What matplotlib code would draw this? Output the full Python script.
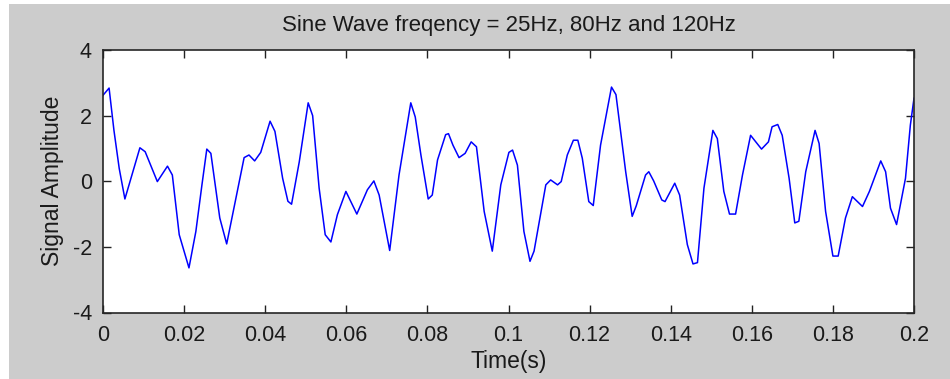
import matplotlib
matplotlib.use("Agg")
import matplotlib.pyplot as plt
import numpy as np

plt.rcParams['font.family'] = ['Liberation Sans', 'DejaVu Sans']
plt.rcParams['axes.unicode_minus'] = False

# vertices of the summed 25/80/120 Hz signal (time in s, amplitude)
t = [0.0000, 0.0015, 0.0027, 0.0040, 0.0054, 0.0091, 0.0104, 0.0134, 0.0159, 0.0171,
     0.0188, 0.0212, 0.0229, 0.0244, 0.0256, 0.0266, 0.0288, 0.0305, 0.0323, 0.0348,
     0.0360, 0.0374, 0.0389, 0.0412, 0.0424, 0.0443, 0.0456, 0.0465, 0.0484, 0.0506,
     0.0517, 0.0533, 0.0548, 0.0562, 0.0578, 0.0599, 0.0626, 0.0652, 0.0668, 0.0681,
     0.0707, 0.0730, 0.0759, 0.0770, 0.0784, 0.0802, 0.0812, 0.0825, 0.0845, 0.0852,
     0.0863, 0.0878, 0.0893, 0.0908, 0.0921, 0.0940, 0.0960, 0.0981, 0.1001, 0.1010,
     0.1022, 0.1038, 0.1053, 0.1063, 0.1092, 0.1104, 0.1121, 0.1130, 0.1145, 0.1160,
     0.1171, 0.1182, 0.1198, 0.1209, 0.1227, 0.1254, 0.1265, 0.1289, 0.1305, 0.1315,
     0.1338, 0.1346, 0.1358, 0.1378, 0.1386, 0.1410, 0.1422, 0.1441, 0.1455, 0.1466,
     0.1482, 0.1504, 0.1515, 0.1531, 0.1545, 0.1560, 0.1577, 0.1597, 0.1624, 0.1641,
     0.1650, 0.1664, 0.1675, 0.1692, 0.1706, 0.1716, 0.1733, 0.1756, 0.1766, 0.1782,
     0.1800, 0.1813, 0.1831, 0.1848, 0.1873, 0.1890, 0.1918, 0.1930, 0.1942, 0.1957,
     0.1979, 0.1991, 0.2000]
amp = [2.62, 2.84, 1.55, 0.39, -0.54, 1.02, 0.90, -0.01, 0.46, 0.19,
       -1.63, -2.64, -1.53, -0.11, 0.98, 0.85, -1.12, -1.91, -0.81, 0.72,
       0.80, 0.62, 0.88, 1.83, 1.52, 0.09, -0.61, -0.70, 0.59, 2.39,
       2.00, -0.21, -1.63, -1.85, -1.02, -0.31, -1.00, -0.26, 0.01, -0.42,
       -2.11, 0.19, 2.39, 1.96, 0.80, -0.54, -0.42, 0.65, 1.42, 1.45,
       1.10, 0.72, 0.85, 1.20, 1.05, -0.92, -2.13, -0.11, 0.88, 0.95,
       0.49, -1.53, -2.44, -2.13, -0.11, 0.04, -0.11, -0.01, 0.80, 1.25,
       1.25, 0.70, -0.62, -0.74, 1.10, 2.87, 2.64, 0.29, -1.07, -0.75,
       0.19, 0.29, 0.01, -0.57, -0.62, -0.06, -0.42, -1.93, -2.52, -2.48,
       -0.21, 1.55, 1.30, -0.31, -1.00, -1.00, 0.19, 1.40, 0.98, 1.20,
       1.66, 1.73, 1.40, 0.09, -1.27, -1.22, 0.29, 1.55, 1.15, -0.92,
       -2.28, -2.28, -1.12, -0.47, -0.77, -0.31, 0.62, 0.29, -0.82, -1.32,
       0.09, 1.71, 2.53]

xticks = np.arange(0, 0.2001, 0.02)
xlabels = ['0', '0.02', '0.04', '0.06', '0.08', '0.1', '0.12', '0.14', '0.16', '0.18', '0.2']
yticks = [-4, -2, 0, 2, 4]

fig = plt.figure(figsize=(9.5, 3.79), dpi=100, facecolor='#cccccc')
# thin white margins along the top and left edge
fig.patches.append(plt.Rectangle((0, 0), 9 / 950, 1, transform=fig.transFigure,
                                 facecolor='white', edgecolor='none'))
fig.patches.append(plt.Rectangle((0, 1 - 4 / 379), 1, 4 / 379, transform=fig.transFigure,
                                 facecolor='white', edgecolor='none'))

ax = fig.add_axes([103 / 950, 1 - 312.5 / 379, 811 / 950, 262.5 / 379])
ax.plot(t, amp, color='#0000ff', linewidth=1.1)

ax.set_xlim(0, 0.2)
ax.set_ylim(-4, 4)
ax.set_xticks(xticks)
ax.set_xticklabels(xlabels)
ax.set_yticks(yticks)
ax.tick_params(direction='in', length=6, width=1, top=True, right=True,
               labelsize=15.5, colors='#222222', labelcolor='#1a1a1a')
ax.tick_params(axis='x', pad=9)
ax.tick_params(axis='y', pad=8)
for s in ax.spines.values():
    s.set_linewidth(1.2)
    s.set_color('#262626')

ax.set_title('Sine Wave freqency = 25Hz, 80Hz and 120Hz', fontsize=16, pad=14, color='#1a1a1a')
ax.set_xlabel('Time(s)', fontsize=16.5, labelpad=3, color='#1a1a1a')
ax.set_ylabel('Signal Amplitude', fontsize=16.5, labelpad=6, color='#1a1a1a')

fig.savefig('out.png', dpi=100, facecolor=fig.get_facecolor())
